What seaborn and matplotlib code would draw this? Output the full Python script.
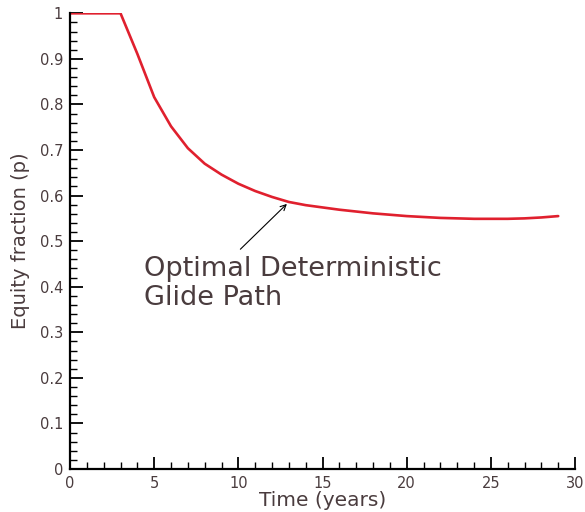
import matplotlib
matplotlib.use("Agg")
import matplotlib.pyplot as plt
import seaborn as sns
import pandas as pd
from matplotlib.ticker import MultipleLocator, FormatStrFormatter

# glide path
years = list(range(0, 30))
equity = [1.0, 1.0, 1.0, 1.0, 0.911, 0.816, 0.752, 0.704, 0.670, 0.646,
          0.626, 0.610, 0.597, 0.586, 0.579, 0.574, 0.569, 0.565, 0.561, 0.558,
          0.555, 0.553, 0.551, 0.550, 0.549, 0.549, 0.549, 0.550, 0.552, 0.555]

label_text = "Optimal Deterministic\nGlide Path"
text_col = "#4a3c3e"

sns.set_style("ticks")
plt.rcParams['font.family'] = ['DejaVu Sans']

df = pd.DataFrame({"t": years, "p": equity})

fig = plt.figure(figsize=(5.85, 5.12), dpi=100)
ax = fig.add_axes([0.1197, 0.084, 0.8633, 0.89])

sns.lineplot(data=df, x="t", y="p", ax=ax, color="#e0202e", linewidth=1.9)

ax.set_xlim(0, 30)
ax.set_ylim(0, 1)
ax.xaxis.set_major_locator(MultipleLocator(5))
ax.xaxis.set_minor_locator(MultipleLocator(1))
ax.yaxis.set_major_locator(MultipleLocator(0.1))
ax.yaxis.set_minor_locator(MultipleLocator(0.02))
ax.yaxis.set_major_formatter(FormatStrFormatter("%g"))

sns.despine(ax=ax)
for s in ("left", "bottom"):
    ax.spines[s].set_linewidth(1.6)
    ax.spines[s].set_color("black")

ax.tick_params(which="major", direction="in", length=9, width=1.3,
               color="black", labelsize=10.5, labelcolor=text_col, pad=5)
ax.tick_params(which="minor", direction="in", length=5, width=1.0, color="black")

ax.set_xlabel("Time (years)", fontsize=14.5, color=text_col, labelpad=0)
ax.set_ylabel("Equity fraction (p)", fontsize=14, color=text_col, labelpad=7)

ax.text(4.4, 0.408, label_text, fontsize=19.5, color=text_col,
        va="center", ha="left", linespacing=1.15)
ax.annotate("", xy=(13.0, 0.586), xytext=(10.0, 0.478),
            arrowprops=dict(arrowstyle="->", color="black", lw=0.8))

fig.savefig("out.png", dpi=100)
